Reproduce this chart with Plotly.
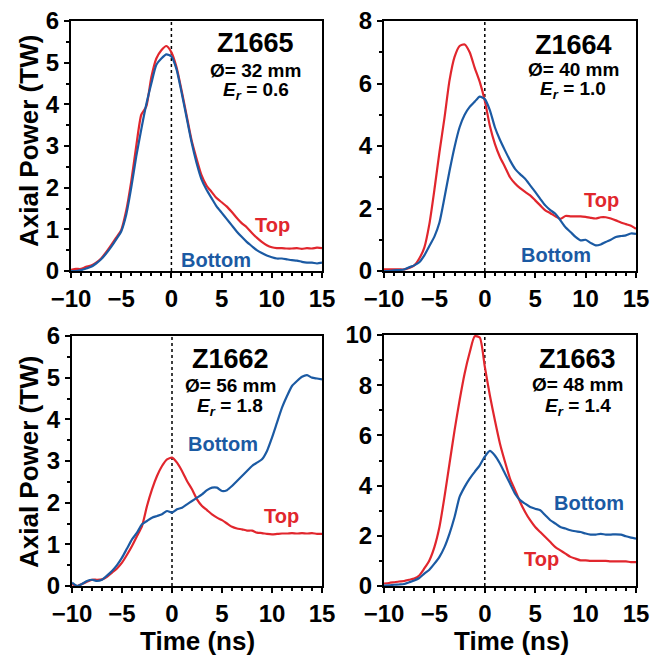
import plotly.graph_objects as go

# ---------------- data ----------------
time_ns = [-10, -9.5, -9, -8.5, -8, -7.5, -7, -6.5, -6, -5.5, -5, -4.5, -4, -3.5, -3, -2.5,
           -2, -1.5, -1, -0.5, 0, 0.5, 1, 1.5, 2, 2.5, 3, 3.5, 4, 4.5, 5, 5.5, 6, 6.5, 7,
           7.5, 8, 8.5, 9, 9.5, 10, 10.5, 11, 11.5, 12, 12.5, 13, 13.5, 14, 14.5, 15]

z1665_top = [0.03, 0.05, 0.05, 0.1, 0.13, 0.2, 0.3, 0.45, 0.62, 0.8, 0.98, 1.45, 2.15, 3.0, 3.75, 3.95,
             4.65, 5.1, 5.3, 5.4, 5.25, 4.9, 4.35, 3.75, 3.15, 2.7, 2.3, 2.05, 1.9, 1.75, 1.65, 1.55,
             1.42, 1.28, 1.15, 1.05, 0.92, 0.8, 0.7, 0.62, 0.57, 0.55, 0.55, 0.54, 0.54, 0.55, 0.53,
             0.55, 0.54, 0.56, 0.55]
z1665_bottom = [0.0, 0.0, 0.02, 0.06, 0.1, 0.18, 0.28, 0.42, 0.58, 0.76, 0.95, 1.35, 2.0, 2.75, 3.4, 4.0,
                4.5, 4.95, 5.1, 5.2, 5.15, 4.85, 4.3, 3.7, 3.1, 2.6, 2.2, 1.95, 1.75, 1.55, 1.4, 1.25,
                1.1, 0.95, 0.82, 0.7, 0.6, 0.5, 0.43, 0.37, 0.33, 0.3, 0.3, 0.28, 0.26, 0.25, 0.22,
                0.2, 0.2, 0.18, 0.2]

z1664_top = [0.05, 0.05, 0.05, 0.05, 0.05, 0.1, 0.18, 0.4, 0.75, 1.5, 2.6, 3.8, 4.9, 6.1, 6.85, 7.2,
             7.25, 7.0, 6.5, 6.05, 5.45, 4.65, 4.07, 3.65, 3.33, 3.0, 2.8, 2.65, 2.53, 2.42, 2.26, 2.1,
             1.94, 1.85, 1.75, 1.67, 1.76, 1.75, 1.75, 1.75, 1.73, 1.7, 1.68, 1.72, 1.72, 1.68, 1.62,
             1.55, 1.5, 1.45, 1.35]
z1664_bottom = [0.0, 0.0, 0.02, 0.03, 0.05, 0.12, 0.18, 0.28, 0.5, 0.8, 1.1, 1.55, 2.35, 3.2, 3.97, 4.6,
                5.0, 5.25, 5.42, 5.58, 5.5, 5.15, 4.6, 4.2, 3.86, 3.54, 3.27, 3.1, 2.95, 2.74, 2.53, 2.31,
                2.1, 1.95, 1.83, 1.62, 1.4, 1.25, 1.09, 0.98, 1.0, 0.9, 0.82, 0.85, 0.93, 1.0, 1.09,
                1.12, 1.14, 1.2, 1.19]

z1662_top = [0.05, 0.0, 0.05, 0.1, 0.15, 0.15, 0.16, 0.22, 0.32, 0.42, 0.56, 0.75, 0.96, 1.2, 1.44, 1.92,
             2.32, 2.64, 2.88, 3.04, 3.08, 2.96, 2.76, 2.52, 2.32, 2.08, 1.92, 1.82, 1.72, 1.64, 1.58, 1.5,
             1.42, 1.38, 1.36, 1.33, 1.33, 1.28, 1.27, 1.25, 1.24, 1.25, 1.26, 1.26, 1.27, 1.26, 1.27,
             1.26, 1.27, 1.25, 1.25]
z1662_bottom = [0.08, 0.0, 0.05, 0.12, 0.15, 0.12, 0.15, 0.25, 0.36, 0.5, 0.68, 0.9, 1.12, 1.28, 1.48, 1.56,
                1.64, 1.68, 1.72, 1.8, 1.76, 1.84, 1.88, 1.96, 2.04, 2.12, 2.2, 2.3, 2.36, 2.36, 2.28, 2.3,
                2.4, 2.52, 2.64, 2.76, 2.88, 2.96, 3.04, 3.24, 3.56, 3.92, 4.28, 4.56, 4.8, 4.92, 5.02,
                5.06, 5.0, 4.98, 4.96]

z1663_top = [0.1, 0.12, 0.15, 0.18, 0.2, 0.25, 0.3, 0.42, 0.7, 1.02, 1.55, 2.35, 3.55, 4.88, 6.2, 7.4,
             8.47, 9.3, 9.95, 9.9, 8.74, 7.6, 6.6, 5.68, 4.95, 4.28, 3.82, 3.35, 2.95, 2.62, 2.35, 2.15,
             1.95, 1.75, 1.55, 1.42, 1.29, 1.16, 1.09, 1.02, 1.02, 1.0, 1.0, 1.0, 1.0, 0.98, 0.98,
             0.98, 0.98, 0.95, 0.95]
z1663_bottom = [0.02, 0.03, 0.05, 0.06, 0.08, 0.15, 0.22, 0.32, 0.49, 0.65, 0.89, 1.16, 1.55, 2.09, 2.75, 3.55,
                3.95, 4.28, 4.55, 4.81, 5.15, 5.38, 5.2, 4.88, 4.48, 4.08, 3.68, 3.42, 3.28, 3.15, 3.08, 3.02,
                2.82, 2.62, 2.49, 2.35, 2.29, 2.22, 2.18, 2.15, 2.09, 2.05, 2.05, 2.08, 2.05, 2.05, 2.06,
                2.05, 1.98, 1.93, 1.89]

shots = ["Z1665", "Z1664", "Z1662", "Z1663"]
diameters = ["32 mm", "40 mm", "56 mm", "48 mm"]
energy_ratios = ["0.6", "1.0", "1.8", "1.4"]
y_max = [6, 8, 6, 10]
y_dtick = [1, 2, 1, 2]
top_series = [z1665_top, z1664_top, z1662_top, z1663_top]
bottom_series = [z1665_bottom, z1664_bottom, z1662_bottom, z1663_bottom]
# label positions (data coords): (x, y) for "Top" and "Bottom"
top_label_pos = [(10.1, 1.1), (11.6, 2.27), (10.9, 1.68), (5.6, 1.09)]
bottom_label_pos = [(4.44, 0.26), (7.06, 0.51), (5.12, 3.40), (10.33, 3.29)]
# info text position in axis-domain fraction: x, y of the 3 lines
info_x = [0.737, 0.75, 0.632, 0.768]
info_y = [(0.912, 0.803, 0.722), (0.905, 0.806, 0.724), (0.909, 0.802, 0.715), (0.903, 0.802, 0.714)]

RED = "#e1262d"
BLUE = "#1b5aa3"
FONT = "Liberation Sans, Arial, Helvetica, sans-serif"

OFF = 8  # page body margin
W, H = 667 - OFF, 658 - OFF
# plot areas in window pixels (left, right, top, bottom)
areas = [(71, 322, 21, 271), (384, 636, 21, 271), (72, 322, 336, 586), (384, 636, 335, 586)]

fig = go.Figure()
layout = dict(
    width=W, height=H, margin=dict(l=0, r=0, t=0, b=0, autoexpand=False),
    paper_bgcolor="white", plot_bgcolor="white", showlegend=False,
    font=dict(family=FONT, color="black"),
)
annotations = []
shapes = []

for i in range(4):
    n = "" if i == 0 else str(i + 1)
    xa, ya = "x" + n, "y" + n
    l, r, t, b = [v - OFF for v in areas[i]]
    layout["xaxis" + n] = dict(
        domain=[l / W, r / W], anchor=ya, range=[-10, 15], tick0=-10, dtick=5, automargin=False,
        ticklabeloverflow="allow",
        ticks="outside", ticklen=5, tickwidth=2, tickcolor="black",
        showline=True, linecolor="black", linewidth=2, mirror=True,
        showgrid=False, zeroline=False,
        tickfont=dict(family=FONT, size=24, color="black", weight="bold"),
        minor=dict(dtick=1, tick0=-10, ticks="outside", ticklen=3, tickwidth=1.5, tickcolor="black", showgrid=False),
    )
    layout["yaxis" + n] = dict(
        domain=[1 - b / H, 1 - t / H], anchor=xa, range=[0, y_max[i]], dtick=y_dtick[i], tick0=0,
        automargin=False, ticklabeloverflow="allow",
        ticks="outside", ticklen=5, tickwidth=2, tickcolor="black",
        showline=True, linecolor="black", linewidth=2, mirror=True,
        showgrid=False, zeroline=False,
        tickfont=dict(family=FONT, size=24, color="black", weight="bold"),
        minor=dict(dtick=y_dtick[i] / 2, tick0=0, ticks="outside", ticklen=3, tickwidth=1.5, tickcolor="black", showgrid=False),
    )
    fig.add_trace(go.Scatter(x=time_ns, y=top_series[i], mode="lines", xaxis=xa, yaxis=ya,
                             line=dict(color=RED, width=2.2, shape="spline", smoothing=0.6)))
    fig.add_trace(go.Scatter(x=time_ns, y=bottom_series[i], mode="lines", xaxis=xa, yaxis=ya,
                             line=dict(color=BLUE, width=2.2, shape="spline", smoothing=0.6)))
    shapes.append(dict(type="line", xref=xa, yref=ya + " domain", x0=0, x1=0, y0=0, y1=1,
                       line=dict(color="black", width=1.5, dash="dot"), layer="below"))
    xd, yd = xa + " domain", ya + " domain"
    annotations.append(dict(xref=xd, yref=yd, x=info_x[i], y=info_y[i][0], text="<b>%s</b>" % shots[i],
                            showarrow=False, font=dict(size=27, family=FONT, color="black"),
                            xanchor="center", yanchor="middle"))
    annotations.append(dict(xref=xd, yref=yd, x=info_x[i], y=info_y[i][1], text="<b>Ø= %s</b>" % diameters[i],
                            showarrow=False, font=dict(size=19, family=FONT, color="black"),
                            xanchor="center", yanchor="middle"))
    annotations.append(dict(xref=xd, yref=yd, x=info_x[i], y=info_y[i][2],
                            text="<b><i>E</i><sub><i>r</i></sub> = %s</b>" % energy_ratios[i],
                            showarrow=False, font=dict(size=19, family=FONT, color="black"),
                            xanchor="center", yanchor="middle"))
    annotations.append(dict(xref=xa, yref=ya, x=top_label_pos[i][0], y=top_label_pos[i][1], text="<b>Top</b>",
                            showarrow=False, font=dict(size=20, family=FONT, color=RED),
                            xanchor="center", yanchor="middle"))
    annotations.append(dict(xref=xa, yref=ya, x=bottom_label_pos[i][0], y=bottom_label_pos[i][1], text="<b>Bottom</b>",
                            showarrow=False, font=dict(size=20, family=FONT, color=BLUE),
                            xanchor="center", yanchor="middle"))

# axis titles (window pixel centres)
for yc in (141, 462):
    annotations.append(dict(xref="paper", yref="paper", x=(29 - OFF) / W, y=1 - (yc - OFF) / H,
                            text="<b>Axial Power (TW)</b>", textangle=-90, showarrow=False,
                            font=dict(size=26, family=FONT, color="black"),
                            xanchor="center", yanchor="middle"))
for xc in (197, 511):
    annotations.append(dict(xref="paper", yref="paper", x=(xc - OFF) / W, y=1 - (641 - OFF) / H,
                            text="<b>Time (ns)</b>", showarrow=False,
                            font=dict(size=26, family=FONT, color="black"),
                            xanchor="center", yanchor="middle"))

layout["annotations"] = annotations
layout["shapes"] = shapes
fig.update_layout(**layout)
fig.write_html("out.html")
